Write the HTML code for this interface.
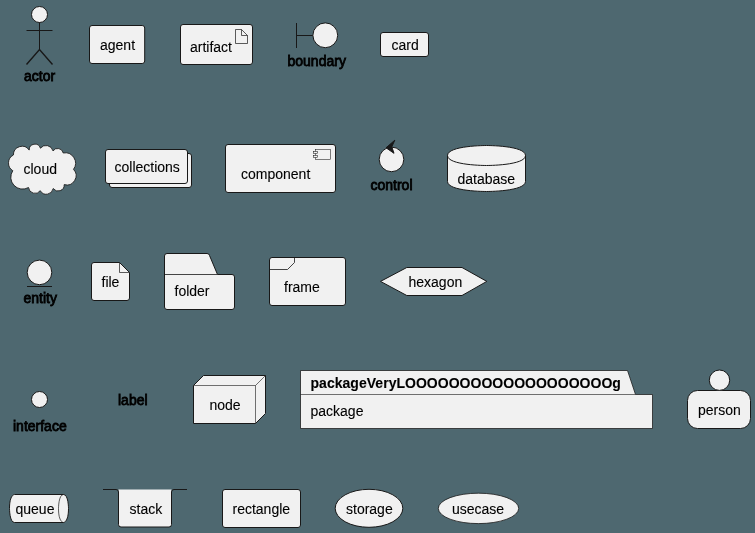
<!DOCTYPE html>
<html><head><meta charset="utf-8">
<style>
circle{stroke-width:1 !important}
html,body{margin:0;padding:0;background:#4E6870;width:755px;height:533px;overflow:hidden}
svg{display:block;will-change:transform}
text{font-family:"Liberation Sans",sans-serif;font-size:14px;fill:#000;stroke:#000;stroke-width:0.1}
.s{fill:#F1F1F1;stroke:#181818;stroke-width:1}
.l{fill:none;stroke:#181818;stroke-width:1}
.o{stroke:#000;stroke-width:0.8}
</style></head><body>
<svg width="755" height="533" viewBox="0 0 755 533">
<!-- actor -->
<circle class="s" cx="39.5" cy="14.5" r="8"/>
<path class="l" d="M39.5,22.5 L39.5,49.5 M26.5,30.5 L52.5,30.5"/>
<path class="l" style="stroke-width:1.4" d="M26.5,64.5 L39.5,49.5 L52.5,64.5"/>
<text class="o" x="24" y="80.5">actor</text>
<!-- agent -->
<rect class="s" x="89.5" y="25.5" width="55.2" height="38" rx="2.5"/>
<text x="100" y="50">agent</text>
<!-- artifact -->
<rect class="s" x="180.5" y="24.5" width="72" height="40" rx="2.5"/>
<path class="s" style="stroke-width:0.7;stroke-linejoin:miter" d="M235.5,29.5 L241.5,29.5 L247.5,35.5 L247.5,43.5 L235.5,43.5 Z M241.5,29.5 L241.5,35.5 L247.5,35.5"/>
<text x="190" y="51.5">artifact</text>
<!-- boundary -->
<path class="l" d="M296.5,23 L296.5,48 M296.5,35.5 L313,35.5"/>
<circle class="s" cx="325.3" cy="35.3" r="12.4"/>
<text class="o" x="287.5" y="66">boundary</text>
<!-- card -->
<rect class="s" x="380.5" y="32.5" width="48" height="24" rx="2.5"/>
<text x="391.5" y="50">card</text>

<!-- cloud -->
<path class="s" style="stroke-width:0.85" d="M13.40,155.00 A8.64,8.64 0 0 1 29.20,150.10 A5.73,5.73 0 0 1 40.40,148.20 A7.20,7.20 0 0 1 53.00,150.90 A5.65,5.65 0 0 1 63.20,153.00 A10.36,10.36 0 0 1 73.50,169.30 A9.29,9.29 0 0 1 64.20,184.60 A6.08,6.08 0 0 1 53.20,188.50 A6.95,6.95 0 0 1 40.30,190.70 A6.55,6.55 0 0 1 28.50,187.50 A11.80,11.80 0 0 1 12.80,170.70 A9.01,9.01 0 0 1 13.40,155.00 Z"/>
<text x="23.5" y="174">cloud</text>
<!-- collections -->
<rect class="s" x="109.5" y="153.5" width="82" height="34" rx="2.5"/>
<rect class="s" x="105.5" y="149.5" width="82" height="34" rx="2.5"/>
<text x="114.5" y="171.5">collections</text>
<!-- component -->
<rect class="s" x="225.5" y="144.5" width="110" height="48" rx="2.5"/>
<rect class="s" style="stroke-width:0.55" x="315.5" y="149.5" width="15" height="10"/>
<rect class="s" style="stroke-width:0.55" x="313.5" y="151.5" width="4" height="2"/>
<rect class="s" style="stroke-width:0.55" x="313.5" y="155.5" width="4" height="2"/>
<text x="241" y="179">component</text>
<!-- control -->
<circle class="s" cx="391.5" cy="159.4" r="12.3"/>
<path style="fill:#181818;stroke:#181818;stroke-width:1" d="M394.8,140.2 L386,147.8 L394,153.3 L391.8,146.8 Z"/>
<text class="o" x="370.5" y="189.5">control</text>
<!-- database -->
<path class="s" d="M447.5,155.5 C447.5,145.5 486.5,145.5 486.5,145.5 C486.5,145.5 525.5,145.5 525.5,155.5 L525.5,181.5 C525.5,191.5 486.5,191.5 486.5,191.5 C486.5,191.5 447.5,191.5 447.5,181.5 L447.5,155.5"/>
<path class="l" d="M447.5,155.5 C447.5,165.5 486.5,165.5 486.5,165.5 C486.5,165.5 525.5,165.5 525.5,155.5"/>
<text x="457.5" y="183.5">database</text>
<!-- entity -->
<circle class="s" cx="39.5" cy="272.4" r="12.3"/>
<path class="l" d="M27,286.5 L52,286.5"/>
<text class="o" x="23.5" y="302.5">entity</text>
<!-- file -->
<path class="s" d="M94,262.5 L119.5,262.5 L129.5,272.5 L129.5,298 A2.5,2.5 0 0 1 127,300.5 L94,300.5 A2.5,2.5 0 0 1 91.5,298 L91.5,265 A2.5,2.5 0 0 1 94,262.5 Z"/>
<path class="l" style="stroke-width:0.7" d="M119.5,262.5 L119.5,272.5 L129.5,272.5"/>
<text x="101.5" y="286.5">file</text>
<!-- folder -->
<path class="s" d="M167,253.5 L207,253.5 A2.5,2.5 0 0 1 209.5,255.5 L217.5,274.5 L232,274.5 A2.5,2.5 0 0 1 234.5,277 L234.5,307 A2.5,2.5 0 0 1 232,309.5 L167,309.5 A2.5,2.5 0 0 1 164.5,307 L164.5,256 A2.5,2.5 0 0 1 167,253.5 Z"/>
<path class="l" style="stroke-width:0.8" d="M164.5,274.5 L217.5,274.5"/>
<text x="174.5" y="295.5">folder</text>
<!-- frame -->
<rect class="s" x="269.5" y="257.5" width="76" height="48" rx="2.5"/>
<path class="l" style="stroke-width:0.8" d="M294.5,257.5 L294.5,262.5 L287.5,269.5 L269.5,269.5"/>
<text x="284" y="291.5">frame</text>
<!-- hexagon -->
<path class="s" d="M380.5,281.4 L406.8,267.5 L462,267.5 L486.8,281.4 L462,295.5 L406.8,295.5 Z"/>
<text x="408.5" y="286.5">hexagon</text>
<!-- interface -->
<circle class="s" cx="39.5" cy="399.5" r="8"/>
<text class="o" x="13" y="431">interface</text>
<!-- label -->
<text class="o" x="118" y="405">label</text>
<!-- node -->
<path class="s" d="M193.5,385.5 L203.5,375.5 L265.5,375.5 L265.5,413.5 L255.5,423.5 L193.5,423.5 Z"/>
<path class="l" style="stroke-width:0.6" d="M255.5,423.5 L255.5,385.5 L193.5,385.5 M255.5,385.5 L265.5,375.5"/>
<text x="209.5" y="409.5">node</text>
<!-- package -->
<path class="s" style="stroke-width:0.75" d="M300.5,428.5 L300.5,370.5 L627.5,370.5 L635.5,394.5 L652.5,394.5 L652.5,428.5 Z"/>
<path class="l" style="stroke-width:0.6" d="M300.5,394.5 L635.5,394.5"/>
<text x="310.5" y="387.5" style="font-weight:bold" textLength="310.4" lengthAdjust="spacing">packageVeryLOOOOOOOOOOOOOOOOOOOg</text>
<text x="310.5" y="416">package</text>
<!-- person -->
<rect class="s" x="687.5" y="390.5" width="63" height="38" rx="10"/>
<circle class="s" cx="719.5" cy="380.2" r="10.2"/>
<text x="698" y="415">person</text>
<!-- queue -->
<path class="s" d="M14.5,494.5 L63.5,494.5 C68.5,494.5 68.5,508.5 68.5,508.5 C68.5,522.5 63.5,522.5 63.5,522.5 L14.5,522.5 C9.5,522.5 9.5,508.5 9.5,508.5 C9.5,494.5 14.5,494.5 14.5,494.5 Z"/>
<path class="l" style="stroke-width:0.7" d="M63.5,494.5 C58.5,494.5 58.5,508.5 58.5,508.5 C58.5,522.5 63.5,522.5 63.5,522.5"/>
<text x="15.5" y="514">queue</text>
<!-- stack -->
<path style="fill:#F1F1F1;stroke:none" d="M118.5,489.5 L171.5,489.5 L171.5,524.5 A2.5,2.5 0 0 1 169,527 L121,527 A2.5,2.5 0 0 1 118.5,524.5 Z"/>
<path class="l" d="M103,489.5 L116,489.5 A2.5,2.5 0 0 1 118.5,492 L118.5,524.5 A2.5,2.5 0 0 0 121,527 L169,527 A2.5,2.5 0 0 0 171.5,524.5 L171.5,492 A2.5,2.5 0 0 1 174,489.5 L187,489.5"/>
<text x="129.5" y="514">stack</text>
<!-- rectangle -->
<rect class="s" x="222.5" y="489.5" width="78" height="38" rx="2.5"/>
<text x="232.5" y="513.5">rectangle</text>
<!-- storage -->
<ellipse class="s" cx="369" cy="508.3" rx="33.8" ry="19"/>
<text x="346" y="514">storage</text>
<!-- usecase -->
<ellipse class="s" style="stroke-width:0.8" cx="478.5" cy="508.4" rx="40.2" ry="15.2"/>
<text x="452" y="514">usecase</text>
</svg>
</body></html>
